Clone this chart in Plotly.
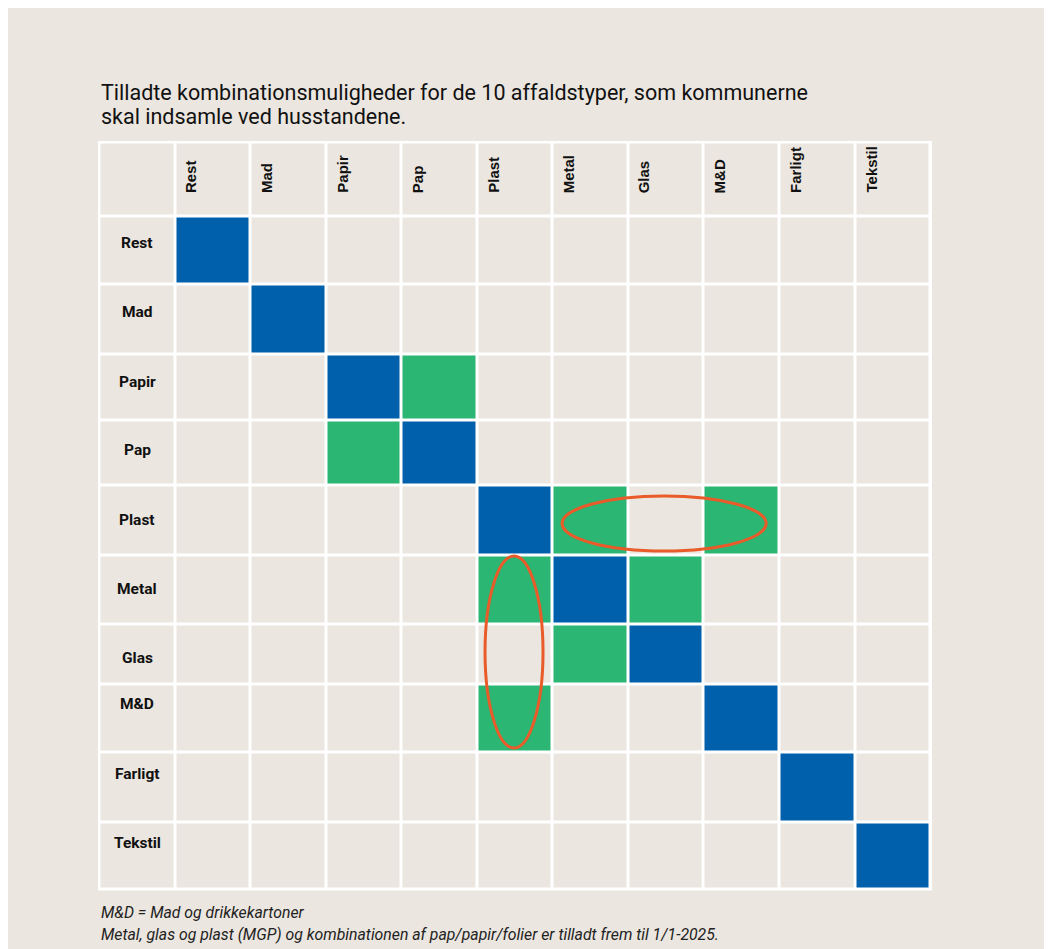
import plotly.graph_objects as go

# ---------------- data ----------------
categories = ["Rest", "Mad", "Papir", "Pap", "Plast", "Metal", "Glas", "M&D", "Farligt", "Tekstil"]
# allowed combinations (row, column)
green_pairs = [("Papir", "Pap"), ("Pap", "Papir"),
               ("Plast", "Metal"), ("Plast", "M&D"),
               ("Metal", "Plast"), ("Metal", "Glas"),
               ("Glas", "Metal"), ("M&D", "Plast")]
# highlighted (circled) combinations: (row, column, orientation)
circled = [("Plast", "Glas", "h"), ("Glas", "Plast", "v")]

title_lines = ["Tilladte kombinationsmuligheder for de 10 affaldstyper, som kommunerne",
               "skal indsamle ved husstandene."]
notes = ["M&D = Mad og drikkekartoner",
         "Metal, glas og plast (MGP) og kombinationen af pap/papir/folier er tilladt frem til 1/1-2025."]

# ---------------- layout constants ----------------
W, H = 1052, 949
BG = "#EBE6DF"
BLUE = "#0060AC"
GREEN = "#2CB673"
ORANGE = "#EA5B2A"
COL_W = 75.55
ROW_H = [74.2, 67.3, 70, 66, 65.5, 70, 68.5, 60, 68, 70.7, 66.3]   # header + 10 rows
LABEL_OFF = [26, 27.7, 27.7, 30, 34.5, 33.8, 34.3, 20.3, 22.3, 20.6]
GRID_X0, GRID_Y0 = 91.5, 134.5      # figure px of the outer grid line centre

n = len(categories)
col_edges = [COL_W * i for i in range(n + 2)]
row_edges = [0.0]
for h in ROW_H:
    row_edges.append(row_edges[-1] + h)

# matrix: 0 empty, 1 green, 2 blue (header row/col included as empty)
idx = {c: i for i, c in enumerate(categories)}
z = [[0] * (n + 1) for _ in range(n + 1)]
for c in categories:
    z[idx[c] + 1][idx[c] + 1] = 2
for r, c in green_pairs:
    z[idx[r] + 1][idx[c] + 1] = 1

fig = go.Figure()
fig.add_trace(go.Heatmap(
    z=z, x=col_edges, y=row_edges,
    zmin=0, zmax=2,
    colorscale=[[0, BG], [0.25, BG], [0.25, GREEN], [0.75, GREEN], [0.75, BLUE], [1, BLUE]],
    showscale=False, xgap=3, ygap=3, hoverinfo="skip"))

shapes = [dict(type="rect", layer="below", x0=-1.5, x1=col_edges[-1] + 1.5,
               y0=-1.5, y1=row_edges[-1] + 1.5, fillcolor="white", line_width=0)]
for r, c, o in circled:
    cx = (col_edges[idx[c] + 1] + col_edges[idx[c] + 2]) / 2
    cy = (row_edges[idx[r] + 1] + row_edges[idx[r] + 2]) / 2
    if o == "h":
        rx, ry, cx, cy = 102, 27.5, cx - 2, cy + 3
    else:
        rx, ry, cx, cy = 29, 96, cx - 1, cy - 2
    shapes.append(dict(type="circle", x0=cx - rx, x1=cx + rx, y0=cy - ry, y1=cy + ry,
                       line=dict(color=ORANGE, width=3), fillcolor="rgba(0,0,0,0)"))

ann = []
for i, c in enumerate(categories):
    # row labels
    ann.append(dict(x=COL_W / 2, y=row_edges[i + 1] + LABEL_OFF[i], text=c, showarrow=False,
                    xanchor="center", yanchor="middle",
                    font=dict(family="Roboto", size=15.5, color="#111", weight="bold")))
    # column headers
    ann.append(dict(x=col_edges[i + 1] + 15.5, y=52.5, text=c, showarrow=False, textangle=-90,
                    xanchor="center", yanchor="bottom",
                    font=dict(family="Liberation Sans", size=15, color="#111", weight="bold")))

for k, t in enumerate(title_lines):
    ann.append(dict(x=-1, y=-50 + 24 * k, text=t, showarrow=False, xanchor="left", yanchor="middle",
                    font=dict(family="Roboto", size=21.5, color="#111")))
for k, t in enumerate(notes):
    ann.append(dict(x=-1, y=769.5 + 22.5 * k, text="<i>" + t + "</i>", showarrow=False,
                    xanchor="left", yanchor="middle",
                    font=dict(family="Roboto", size=15.8, color="#222")))

fig.update_layout(
    width=W, height=H, autosize=False,
    margin=dict(l=0, r=0, t=0, b=0, pad=0),
    paper_bgcolor=BG, plot_bgcolor=BG,
    xaxis=dict(range=[-GRID_X0, W - GRID_X0], visible=False, fixedrange=True),
    yaxis=dict(range=[H - GRID_Y0, -GRID_Y0], visible=False, fixedrange=True),
    shapes=shapes, annotations=ann, showlegend=False)

fig.write_html("out.html")
